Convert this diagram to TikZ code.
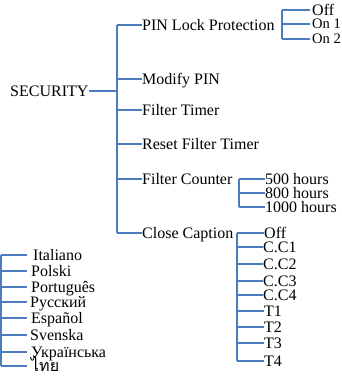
\documentclass[tikz,border=0pt]{standalone}
\usepackage{fontspec}
\setmainfont{Liberation Serif}
\newfontfamily\thaifont[Script=Thai]{Loma}
\definecolor{lnblue}{HTML}{4C7CC0}
\begin{document}
\begin{tikzpicture}[x=1pt,y=-1pt,
  lbl/.style={anchor=west,inner sep=0pt,text height=10pt,text depth=0pt,font=\fontsize{16}{18}\selectfont},
  sml/.style={lbl,text height=9pt,font=\fontsize{14.5}{16}\selectfont},
  ln/.style={draw=lnblue,line width=1.3pt}]
\useasboundingbox (0,0) rectangle (342,376);
% root
\node[lbl] (sec) at (10,91) {SECURITY};
\coordinate (ttop) at (117,25);
\coordinate (tbot) at (117,233);
\draw[ln] (ttop) -- (tbot);
\draw[ln] (sec.east) -- (ttop |- sec.west);
% level 1
\node[lbl] (pin) at (142,25) {PIN Lock Protection};
\node[lbl] (mod) at (142,79) {Modify PIN};
\node[lbl] (ft) at (142,110) {Filter Timer};
\node[lbl] (rft) at (142,144) {Reset Filter Timer};
\node[lbl] (fc) at (142,179) {Filter Counter};
\node[lbl] (cc) at (142,233) {Close Caption};
\foreach \n in {pin,mod,ft,rft,fc,cc}{\draw[ln] (ttop |- \n.west) -- (\n.west);}
% PIN Lock options
\coordinate (ptop) at (282,10);
\coordinate (pbot) at (282,39);
\draw[ln] (ptop) -- (pbot);
\node[lbl] (poff) at (312,10) {Off};
\node[sml] (pon1) at (312,24) {On 1};
\node[sml] (pon2) at (312,39) {On 2};
\foreach \n in {poff,pon1,pon2}{\draw[ln] (ptop |- \n.west) -- ([xshift=-2pt]\n.west);}
% Filter counter options
\coordinate (ftop) at (239,179);
\coordinate (fbot) at (239,207);
\draw[ln] (ftop) -- (fbot);
\node[lbl] (h500) at (265,179) {500 hours};
\node[lbl] (h800) at (265,193) {800 hours};
\node[lbl] (h1000) at (265,207) {1000 hours};
\foreach \n in {h500,h800,h1000}{\draw[ln] (ftop |- \n.west) -- (\n.west);}
% Close caption options
\coordinate (ctop) at (237,233);
\coordinate (cbot) at (237,361);
\draw[ln] (ctop) -- (cbot);
\node[lbl] (coff) at (264,233) {Off};
\node[lbl] (cc1) at (263,247) {C.C1};
\node[lbl] (cc2) at (263,264) {C.C2};
\node[lbl] (cc3) at (263,281) {C.C3};
\node[lbl] (cc4) at (263,295) {C.C4};
\node[lbl] (t1) at (264,311) {T1};
\node[lbl] (t2) at (264,327) {T2};
\node[lbl] (t3) at (264,343) {T3};
\node[lbl] (t4) at (264,361) {T4};
\foreach \n in {coff,cc1,cc2,cc3,cc4,t1,t2,t3,t4}{\draw[ln] (ctop |- \n.west) -- (\n.west);}
% Languages
\coordinate (ltop) at (1,255);
\coordinate (lbot) at (1,366);
\draw[ln] (ltop) -- (lbot);
\node[lbl] (it) at (33,255) {Italiano};
\node[lbl] (pl) at (31,271) {Polski};
\node[lbl] (pt) at (31,287) {Português};
\node[lbl] (ru) at (30,302) {Русский};
\node[lbl] (es) at (31,318) {Español};
\node[lbl] (sv) at (30,335) {Svenska};
\node[lbl] (uk) at (31,352) {Українська};
\node[lbl] (th) at (31,366) {\thaifont ไทย};
\foreach \n in {it,pl,pt,ru,es,sv,uk,th}{\draw[ln] (ltop |- \n.west) -- ([xshift=26pt]ltop |- \n.west);}
\end{tikzpicture}
\end{document}
